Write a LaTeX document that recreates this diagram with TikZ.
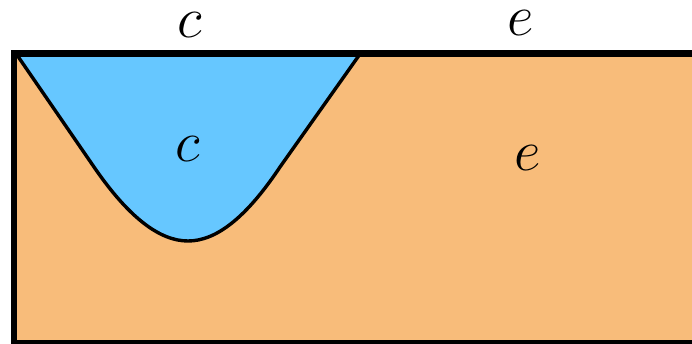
\RequirePackage{fix-cm}
\documentclass[tikz,border=0pt]{standalone}
\usepackage{tikz}
\usetikzlibrary{positioning}
\definecolor{regblue}{RGB}{102,199,255}
\definecolor{regorange}{RGB}{248,188,122}

\begin{document}
\begin{tikzpicture}[x=1pt,y=-1pt,
    lbl/.style={font=\fontsize{58}{60}\selectfont,inner sep=0pt}]
  \clip (0,0) rectangle (692,344);
  % Background region
  \fill[regorange] (14,53.5) rectangle (710,343.5);
  % Blue region
  \fill[regblue] (17,55) -- (94,167) .. controls (129,218) and (160,241) .. (188,241)
    .. controls (216,241) and (246,218) .. (280,167) -- (360,54) -- cycle;
  \draw[line width=3.4pt,line join=round] (17,55) -- (94,167) .. controls (129,218) and (160,241) .. (188,241)
    .. controls (216,241) and (246,218) .. (280,167) -- (360,54);
  % Border
  \draw[line width=6.5pt] (710,53.5) -- (14,53.5) -- (14,343.5) -- (710,343.5);
  % Labels
  \node[lbl] (ctop) at (190,25) {$c$};
  \node[lbl] (etop) at (521,23) {$e$};
  \node[lbl] (cin) at (188,149) {$c$};
  \node[lbl] (ein) at (528,158) {$e$};
\end{tikzpicture}
\end{document}
